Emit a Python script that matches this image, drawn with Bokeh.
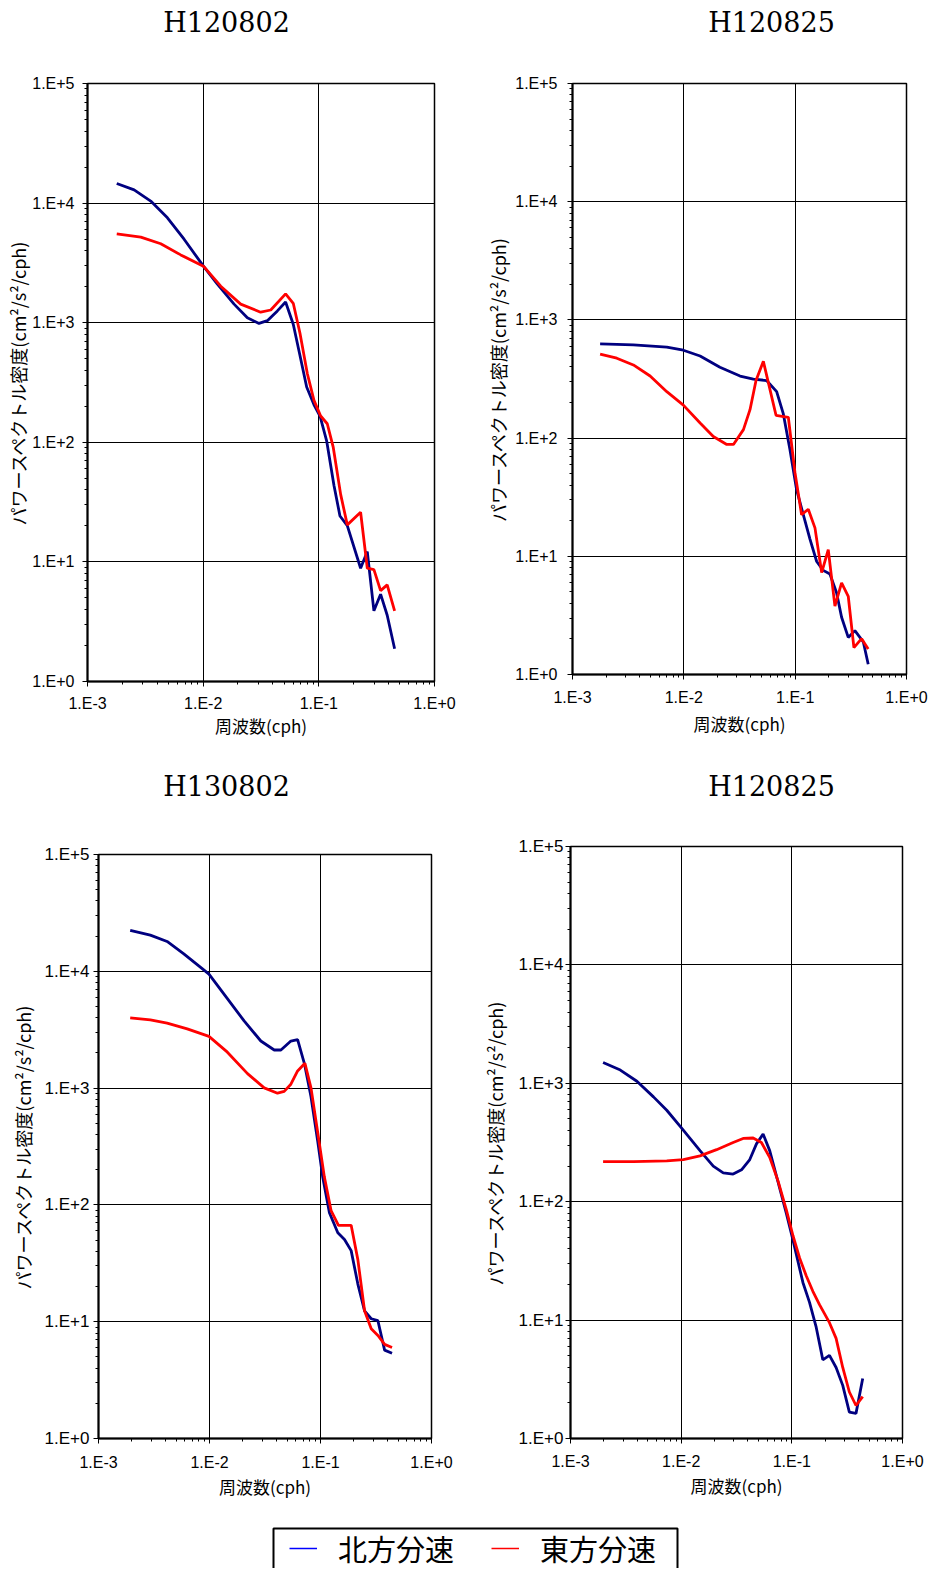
from bokeh.plotting import figure
from bokeh.layouts import column, row
from bokeh.models import FixedTicker, CustomJSTickFormatter, Range1d, Legend, LegendItem, Spacer
from bokeh.core.properties import value
from bokeh.embed import file_html
from bokeh.resources import INLINE

titles = ["H120802", "H120825", "H130802", "H120825"]
series_names = ["北方分速", "東方分速"]
x_label = "周波数(cph)"
y_label = "パワースペクトル密度(cm²/s²/cph)"

# Panel 1 (H120802)
p1_north_f = [0.00179, 0.00253, 0.00352, 0.00491, 0.00684, 0.01005, 0.01327, 0.0185, 0.0241, 0.0304,
              0.0359, 0.0438, 0.0516, 0.0601, 0.0687, 0.0785, 0.0908, 0.1023, 0.1168, 0.1352,
              0.1523, 0.1762, 0.2297, 0.2624, 0.2994, 0.342, 0.390, 0.452]
p1_north_v = [14600, 12900, 10400, 7540, 4990, 2970, 2100, 1430, 1100, 986,
              1040, 1255, 1490, 970, 531, 290, 206, 166, 103, 43.6,
              24.2, 20.1, 8.85, 12.2, 3.90, 5.37, 3.58, 1.88]
p1_east_f = [0.00179, 0.00289, 0.0043, 0.0064, 0.01005, 0.01419, 0.0211, 0.0314, 0.0384, 0.0516,
             0.0601, 0.0687, 0.0795, 0.0908, 0.1037, 0.1183, 0.1333, 0.1544, 0.1762, 0.2297,
             0.2624, 0.2994, 0.342, 0.390, 0.452]
p1_east_v = [5530, 5200, 4570, 3690, 2970, 2020, 1430, 1224, 1277, 1742,
             1453, 816, 376, 224, 166, 143, 90.6, 36.7, 20.4, 26.0,
             8.85, 8.62, 5.75, 6.43, 3.90]

# Panel 2 (H120825)
p2_north_f = [0.00177, 0.00352, 0.00703, 0.0099, 0.0140, 0.0211, 0.0320, 0.0421, 0.0554, 0.0682,
              0.0783, 0.0898, 0.1031, 0.1183, 0.1358, 0.156, 0.1787, 0.2051, 0.2354, 0.2612,
              0.2998, 0.344, 0.409, 0.453]
p2_north_v = [626, 615, 589, 554, 495, 398, 335, 315, 307, 247,
              160, 79.6, 36.4, 22.5, 14.0, 9.04, 7.60, 7.08, 4.92, 3.05,
              2.06, 2.35, 1.89, 1.22]
p2_east_f = [0.00177, 0.0025, 0.00352, 0.00498, 0.00703, 0.0099, 0.0140, 0.0184, 0.0243, 0.0279,
             0.0343, 0.0393, 0.0445, 0.0518, 0.0673, 0.0868, 0.0995, 0.1142, 0.1312, 0.1506,
             0.173, 0.1983, 0.2276, 0.2612, 0.2998, 0.337, 0.395, 0.453]
p2_east_v = [513, 474, 416, 335, 247, 190, 134, 103, 88.4, 88.4,
             118, 174, 307, 446, 156, 150, 51.5, 22.5, 25.0, 17.4,
             7.27, 11.4, 3.79, 5.96, 4.59, 1.69, 2.01, 1.64]

# Panel 3 (H130802)
p3_north_f = [0.00193, 0.00293, 0.00415, 0.00587, 0.00832, 0.00989, 0.01449, 0.0205, 0.0290, 0.0383,
              0.0440, 0.0541, 0.0622, 0.0715, 0.0821, 0.0944, 0.1047, 0.1203, 0.1432, 0.1645,
              0.1889, 0.217, 0.2494, 0.2864, 0.329, 0.378, 0.441]
p3_north_v = [22400, 20400, 18000, 14100, 10800, 9460, 5840, 3760, 2530, 2120,
              2120, 2530, 2600, 1630, 843, 350, 173, 85.7, 57.7, 50.6,
              40.6, 21.0, 12.4, 10.6, 10.2, 5.71, 5.37]
p3_east_f = [0.00193, 0.00293, 0.00415, 0.0063, 0.00989, 0.01449, 0.0220, 0.0311, 0.0410, 0.0471,
             0.0541, 0.0622, 0.0724, 0.0821, 0.0944, 0.1084, 0.1245, 0.1452, 0.1889, 0.217,
             0.2494, 0.2864, 0.329, 0.378, 0.441]
p3_east_v = [4000, 3830, 3600, 3210, 2770, 2030, 1330, 1005, 904, 937,
             1079, 1403, 1630, 1005, 417, 173, 89.5, 66.9, 66.9, 34.0,
             12.4, 8.70, 7.63, 6.40, 6.02]

# Panel 4 (H120825)
p4_north_f = [0.00197, 0.00282, 0.00398, 0.00562, 0.00741, 0.0101, 0.0148, 0.0195, 0.0240, 0.0295,
              0.0351, 0.0417, 0.0479, 0.0550, 0.0631, 0.0750, 0.0891, 0.1023, 0.1259, 0.1445,
              0.166, 0.1905, 0.2188, 0.2512, 0.2884, 0.331, 0.380, 0.437]
p4_north_v = [1500, 1293, 1040, 768, 592, 418, 270, 200, 175, 171,
              186, 227, 308, 373, 270, 147, 80.0, 47.5, 20.8, 14.1,
              8.71, 4.62, 5.04, 3.98, 2.81, 1.67, 1.63, 3.21]
p4_east_f = [0.00197, 0.00372, 0.00741, 0.01047, 0.0148, 0.0209, 0.0295, 0.0363, 0.0447, 0.0531,
             0.0631, 0.0750, 0.0891, 0.1023, 0.1175, 0.1349, 0.1549, 0.1778, 0.2188, 0.2512,
             0.2884, 0.331, 0.380, 0.437]
p4_east_v = [218, 218, 221, 227, 244, 275, 316, 342, 345, 316,
             237, 150, 85.8, 51.8, 33.5, 23.7, 17.5, 13.5, 9.51, 7.01,
             3.98, 2.47, 1.90, 2.26]

x_major = [1e-3, 1e-2, 1e-1, 1.0]
y_major = [1.0, 10.0, 100.0, 1000.0, 10000.0, 100000.0]

NORTH = "#000080"
EAST = "#FF0000"

fmt_code = """
const e = Math.round(Math.log10(tick));
return "1.E" + (e < 0 ? "-" : "+") + Math.abs(e);
"""


def minors(majors):
    out = []
    for m in majors[:-1]:
        for k in range(2, 10):
            out.append(m * k)
    return out


def make_panel(nf, nv, ef, ev, width, height, bl, br, bt, bb,
               xtick_size, ytick_size, xs, xas, ys, yas):
    p = figure(width=width, height=height, x_axis_type="log", y_axis_type="log",
               x_range=Range1d(1e-3, 1.0), y_range=Range1d(1.0, 1e5),
               output_backend="svg", toolbar_location=None,
               min_border_left=bl, min_border_right=br, min_border_top=bt, min_border_bottom=bb)
    p.xaxis.ticker = FixedTicker(ticks=x_major, minor_ticks=minors(x_major))
    p.yaxis.ticker = FixedTicker(ticks=y_major, minor_ticks=minors(y_major))
    for ax in (p.xaxis[0], p.yaxis[0]):
        ax.formatter = CustomJSTickFormatter(code=fmt_code)
        ax.axis_line_color = "black"
        ax.axis_line_width = 2
        ax.major_tick_line_color = "black"
        ax.minor_tick_line_color = "black"
        ax.major_tick_out = 5
        ax.major_tick_in = 0
        ax.minor_tick_out = 3
        ax.minor_tick_in = 0
        ax.major_label_text_font = "Liberation Sans"
        ax.major_label_text_color = "black"
        ax.axis_label_text_font = "Noto Sans CJK JP"
        ax.axis_label_text_font_style = "normal"
        ax.axis_label_text_color = "black"
    p.xaxis.major_label_text_font_size = xtick_size
    p.yaxis.major_label_text_font_size = ytick_size
    p.xaxis.axis_label_text_font_size = "17px"
    p.yaxis.axis_label_text_font_size = "18px"
    p.xaxis.axis_label = x_label
    p.yaxis.axis_label = y_label
    p.xaxis.major_label_standoff = xs
    p.xaxis.axis_label_standoff = xas
    p.yaxis.major_label_standoff = ys
    p.yaxis.axis_label_standoff = yas
    p.grid.grid_line_color = "black"
    p.grid.grid_line_width = 1
    p.outline_line_color = "black"
    p.outline_line_width = 1.5
    p.background_fill_color = "white"
    p.border_fill_color = "white"
    p.line(nf, nv, line_color=NORTH, line_width=2.8)
    p.line(ef, ev, line_color=EAST, line_width=2.8)
    return p


def title_fig(h, y_text, left_title, right_title):
    t = figure(width=933, height=h, x_range=Range1d(0, 933), y_range=Range1d(0, h),
               x_axis_location=None, y_axis_location=None, output_backend="svg",
               toolbar_location=None, min_border=0)
    t.grid.visible = False
    t.outline_line_color = None
    t.text(x=[226, 771], y=[y_text, y_text], text=[left_title, right_title],
           text_font=value("DejaVu Serif"), text_font_size="27px",
           text_align="center", text_baseline="middle", text_color="black")
    return t


t1 = title_fig(48, 26, titles[0], titles[1])
t2 = title_fig(43, 24, titles[2], titles[3])

# row 1: equal top/bottom borders, different heights
p1 = make_panel(p1_north_f, p1_north_v, p1_east_f, p1_east_v, 467, 719, 87, 33, 35, 86,
                "16px", "16px", 8, -2, 8, -2)
p2 = make_panel(p2_north_f, p2_north_v, p2_east_f, p2_east_v, 466, 712, 105, 27, 35, 86,
                "16px", "16px", 9, 2, 10, 1)
# row 2: equal borders; p3 pushed down by a spacer
p3 = make_panel(p3_north_f, p3_north_v, p3_east_f, p3_east_v, 467, 702, 98, 36, 36, 82,
                "16px", "17px", 10, 0, 4, 6)
p4 = make_panel(p4_north_f, p4_north_v, p4_east_f, p4_east_v, 466, 710, 103, 31, 36, 82,
                "16px", "17px", 9, 0, 2, 8)

lf = figure(width=933, height=48, x_range=Range1d(0, 933), y_range=Range1d(0, 48),
            x_axis_location=None, y_axis_location=None, output_backend="svg",
            toolbar_location=None, min_border=0)
lf.grid.visible = False
lf.outline_line_color = None
lf.quad(left=[273], right=[677], top=[40], bottom=[-10], fill_color=None,
        line_color="black", line_width=2)
r_n = lf.line([-50, -40], [-50, -50], line_color="#0000FF", line_width=1.5)
r_e = lf.line([-50, -40], [-50, -50], line_color="#FF0000", line_width=1.5)
legend = Legend(items=[LegendItem(label=series_names[0], renderers=[r_n]),
                       LegendItem(label=series_names[1], renderers=[r_e])],
                orientation="horizontal", location=(289, -1), padding=6, spacing=37,
                glyph_width=28, label_standoff=21, label_text_font="Noto Sans CJK JP",
                label_text_font_size="29px", label_text_color="black",
                border_line_color=None, background_fill_alpha=0)
lf.add_layout(legend)

layout = column(t1, row(p1, p2), t2,
                row(column(Spacer(width=467, height=8), p3), p4), lf)

with open("out.html", "w") as fh:
    fh.write(file_html(layout, INLINE))
